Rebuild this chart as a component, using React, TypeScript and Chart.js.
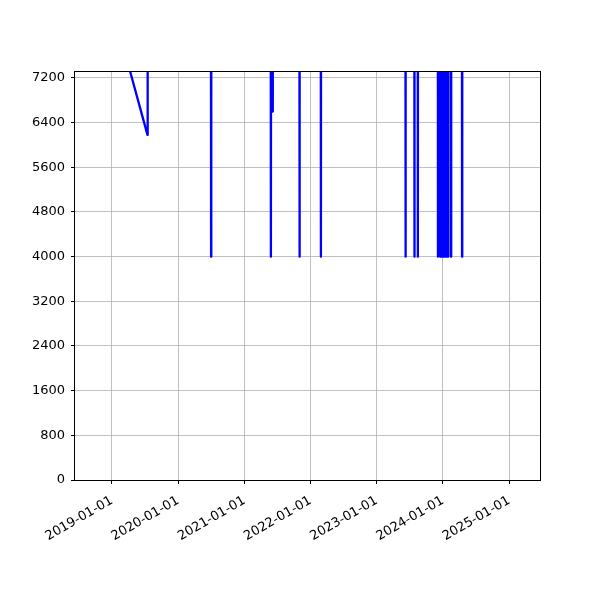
import { useEffect, useRef } from 'react'
import { Chart, registerables } from 'chart.js'

Chart.register(...registerables)

// Dates of each observation, and the value recorded on that date.
// Values above the y limit run off the top of the plot, as in the source.
const DATES = [
  '2018-10-05', '2019-07-16', '2019-07-17',
  '2020-06-30', '2020-07-01', '2020-07-02',
  '2021-05-26', '2021-05-27', '2021-05-28',
  '2021-06-05', '2021-06-06', '2021-06-07',
  '2021-10-31', '2021-11-01', '2021-11-02',
  '2022-02-26', '2022-02-27', '2022-02-28',
  '2023-06-08', '2023-06-09', '2023-06-10',
  '2023-07-27', '2023-07-28', '2023-07-29',
  '2023-08-15', '2023-08-16', '2023-08-17',
  '2023-12-04', '2023-12-05', '2023-12-06',
  '2023-12-16', '2023-12-17', '2023-12-18',
  '2023-12-21', '2023-12-22', '2023-12-23',
  '2023-12-27', '2023-12-28', '2023-12-29',
  '2024-01-02', '2024-01-03', '2024-01-04',
  '2024-01-07', '2024-01-08', '2024-01-09',
  '2024-01-12', '2024-01-13', '2024-01-14',
  '2024-01-19', '2024-01-20', '2024-01-21',
  '2024-01-24', '2024-01-25', '2024-01-26',
  '2024-01-29', '2024-01-30', '2024-01-31',
  '2024-02-14', '2024-02-15', '2024-02-16',
  '2024-04-15', '2024-04-16', '2024-04-17',
  '2025-02-20',
]

const VALUES = [
  9550, 6180, 9800,
  10200, 4000, 10100,
  9900, 4000, 9700,
  9800, 6600, 9900,
  10400, 4000, 10300,
  10600, 4000, 10500,
  11200, 4000, 11100,
  11300, 4000, 11200,
  11000, 4000, 11300,
  11600, 4000, 11500,
  11400, 4000, 11700,
  11500, 4000, 11600,
  11800, 4000, 11600,
  11700, 4000, 11900,
  11900, 4000, 11700,
  11800, 4000, 12000,
  12000, 4000, 11800,
  11900, 4000, 12100,
  12100, 4000, 11900,
  12000, 4000, 12200,
  12300, 4000, 12100,
  12800,
]

const X_TICKS = [
  '2019-01-01', '2020-01-01', '2021-01-01', '2022-01-01',
  '2023-01-01', '2024-01-01', '2025-01-01',
]
const Y_TICKS = [0, 800, 1600, 2400, 3200, 4000, 4800, 5600, 6400, 7200]

const X_MIN = '2018-06-11'
const X_MAX = '2025-06-20'
const Y_MAX = 7307

const ms = (d: string) => Date.parse(d + 'T00:00:00Z')
const fmtDate = (v: number) => new Date(v).toISOString().slice(0, 10)

// matplotlib-style box round the plot area
const framePlugin = {
  id: 'frame',
  afterDraw(chart: Chart) {
    const { ctx, chartArea: a } = chart
    ctx.save()
    ctx.strokeStyle = '#000'
    ctx.lineWidth = 1
    ctx.strokeRect(Math.round(a.left) - 0.5, Math.round(a.top) - 0.5,
      Math.round(a.right - a.left) + 1, Math.round(a.bottom - a.top) + 1)
    ctx.restore()
  },
}

export default function App() {
  const canvasRef = useRef<HTMLCanvasElement>(null)

  useEffect(() => {
    if (!canvasRef.current) return
    Chart.defaults.font.family = 'DejaVu Sans, sans-serif'
    Chart.defaults.color = '#000'

    const chart = new Chart(canvasRef.current, {
      type: 'line',
      data: {
        datasets: [{
          data: DATES.map((d, i) => ({ x: ms(d), y: VALUES[i] })),
          borderColor: '#0000ff',
          borderWidth: 2.3,
          borderJoinStyle: 'round',
          pointRadius: 0,
          fill: false,
          clip: 0,
        }],
      },
      options: {
        responsive: false,
        animation: false,
        layout: { padding: { top: 72, right: 60, bottom: 0, left: 0 } },
        plugins: {
          legend: { display: false },
          tooltip: { enabled: false },
        },
        scales: {
          x: {
            type: 'linear',
            min: ms(X_MIN),
            max: ms(X_MAX),
            afterBuildTicks: s => { s.ticks = X_TICKS.map(d => ({ value: ms(d) })) },
            afterFit: s => { s.height = 120 },
            grid: { color: '#b0b0b0', lineWidth: 0.8, tickColor: '#000', tickLength: 4, tickWidth: 1 },
            border: { display: false },
            ticks: {
              autoSkip: false,
              maxRotation: 30,
              minRotation: 30,
              padding: 9,
              font: { size: 13 },
              color: '#000',
              callback: v => fmtDate(Number(v)),
            },
          },
          y: {
            type: 'linear',
            min: 0,
            max: Y_MAX,
            afterBuildTicks: s => { s.ticks = Y_TICKS.map(v => ({ value: v })) },
            afterFit: s => { s.width = 75 },
            grid: { color: '#b0b0b0', lineWidth: 0.8, tickColor: '#000', tickLength: 4, tickWidth: 1 },
            border: { display: false },
            ticks: {
              padding: 6,
              font: { size: 13 },
              color: '#000',
              callback: v => String(v),
            },
          },
        },
      },
      plugins: [framePlugin],
    })

    return () => { chart.destroy() }
  }, [])

  return (
    <div style={{ position: 'absolute', left: 0, top: 0, width: 600, height: 600, background: '#fff' }}>
      <canvas ref={canvasRef} width={600} height={600} style={{ display: 'block' }} />
    </div>
  )
}
